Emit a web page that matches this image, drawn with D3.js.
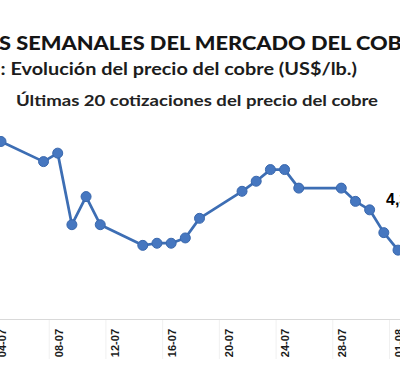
<!DOCTYPE html>
<html>
<head>
<meta charset="utf-8">
<script src="https://cdn.jsdelivr.net/npm/d3@7"></script>
<style>
  html, body { margin: 0; padding: 0; background: #fff; }
  svg { display: block; }
</style>
</head>
<body>
<div id="chart"></div>
<script>
// fechas de cotizacion (dd-mm, año 2025)
var fechas = ["04-07", "07-07", "08-07", "09-07", "10-07", "11-07",
              "14-07", "15-07", "16-07", "17-07", "18-07",
              "21-07", "22-07", "23-07", "24-07", "25-07",
              "28-07", "29-07", "30-07", "31-07", "01-08"];
// precio del cobre US$/lb
var precios = [4.534, 4.496, 4.512, 4.377, 4.430, 4.377,
               4.338, 4.342, 4.342, 4.352, 4.389,
               4.440, 4.459, 4.481, 4.481, 4.446,
               4.446, 4.421, 4.405, 4.362, 4.329];
var tickLabels = ["04-07", "08-07", "12-07", "16-07", "20-07", "24-07", "28-07", "01-08"];
var ultimoLabel = "4,33";

var width = 400, height = 390;
var parse = d3.utcParse("%d-%m-%Y");
var fecha = function(s) { return parse(s + "-2025"); };

var data = fechas.map(function(f, i) { return { fecha: fecha(f), valor: precios[i] }; });

var svg = d3.select("#chart").append("svg")
    .attr("width", width)
    .attr("height", height)
    .style("background-color", "#fff");

var x = d3.scaleUtc()
    .domain([fecha("04-07"), fecha("01-08")])
    .range([1, 398]);

var y = d3.scaleLinear()
    .domain([4.20, 4.60])
    .range([318.5, 106.5]);

// titulos
var t1 = svg.append("text")
    .attr("x", -1)
    .attr("y", 50)
    .attr("font-family", "Lato, 'Noto Sans', sans-serif")
    .attr("font-weight", 900)
    .attr("font-size", 19.5)
    .attr("fill", "#151515")
    .text("S SEMANALES DEL MERCADO DEL COBRE");
// ajustar para que "...COB" quede cortado en el borde
var n1 = "S SEMANALES DEL MERCADO DEL COB".length;
var wSub = t1.node().getSubStringLength(0, n1);
var wFull = t1.node().getComputedTextLength();
t1.attr("textLength", wFull * 403 / wSub).attr("lengthAdjust", "spacingAndGlyphs");

svg.append("text")
    .attr("x", 0.5)
    .attr("y", 75)
    .attr("font-family", "Lato, 'Noto Sans', sans-serif")
    .attr("font-weight", 700)
    .attr("font-size", 16.5)
    .attr("fill", "#1c1c1c")
    .attr("textLength", 356.5)
    .attr("lengthAdjust", "spacingAndGlyphs")
    .text(": Evolución del precio del cobre (US$/lb.)");

svg.append("text")
    .attr("x", 16)
    .attr("y", 106)
    .attr("font-family", "Lato, 'Noto Sans', sans-serif")
    .attr("font-weight", 700)
    .attr("font-size", 15.5)
    .attr("fill", "#222")
    .attr("textLength", 362)
    .attr("lengthAdjust", "spacingAndGlyphs")
    .text("Últimas 20 cotizaciones del precio del cobre");

// eje x
svg.append("line")
    .attr("x1", 0).attr("x2", width)
    .attr("y1", 319.5).attr("y2", 319.5)
    .attr("stroke", "#d9d9d9")
    .attr("stroke-width", 1);

var ticks = svg.selectAll("g.tick")
    .data(tickLabels)
    .enter().append("g")
    .attr("class", "tick")
    .attr("transform", function(d) { return "translate(" + (x(fecha(d)) + 1) + ",329)"; });

ticks.append("line")
    .attr("x1", -9.5).attr("x2", -9.5)
    .attr("y1", -9).attr("y2", 30)
    .attr("stroke", "#f0f0f0")
    .attr("stroke-width", 1);

ticks.append("text")
    .attr("transform", "rotate(-90)")
    .attr("text-anchor", "end")
    .attr("dy", "0.35em")
    .attr("font-family", "'Liberation Sans', Arial, sans-serif")
    .attr("font-weight", "bold")
    .attr("font-size", 11)
    .attr("fill", "#1a1a1a")
    .text(function(d) { return d; });

// serie
var line = d3.line()
    .x(function(d) { return x(d.fecha); })
    .y(function(d) { return y(d.valor); });

svg.append("path")
    .datum(data)
    .attr("d", line)
    .attr("fill", "none")
    .attr("stroke", "#3d6eb4")
    .attr("stroke-width", 2.75)
    .attr("stroke-linejoin", "round");

svg.selectAll("circle.pt")
    .data(data)
    .enter().append("circle")
    .attr("class", "pt")
    .attr("cx", function(d) { return x(d.fecha); })
    .attr("cy", function(d) { return y(d.valor); })
    .attr("r", 5)
    .attr("fill", "#4677c0")
    .attr("stroke", "#3a68ad")
    .attr("stroke-width", 1);

// etiqueta del ultimo valor
var ultimo = data[data.length - 1];
svg.append("text")
    .attr("x", x(ultimo.fecha) - 12)
    .attr("y", y(ultimo.valor) - 45)
    .attr("font-family", "'Liberation Sans', Arial, sans-serif")
    .attr("font-weight", "bold")
    .attr("font-size", 16)
    .attr("fill", "#000")
    .text(ultimoLabel);
</script>
</body>
</html>
